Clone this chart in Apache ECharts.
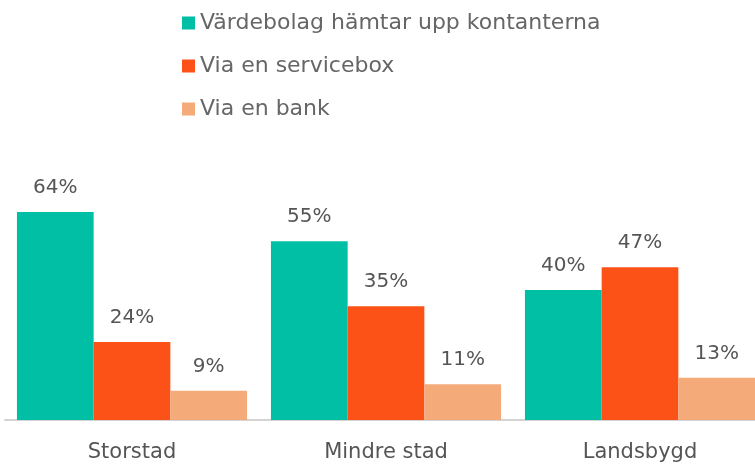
<!DOCTYPE html>
<html>
<head>
<meta charset="utf-8">
<script src="https://cdn.jsdelivr.net/npm/echarts@6/dist/echarts.min.js"></script>
<style>
  html, body { margin: 0; padding: 0; background: #fff; overflow: hidden; }
  /* sista gruppen fortsätter lite utanför bildkanten */
  #chart { width: 767px; height: 466px; }
</style>
</head>
<body>
<div id="chart"></div>
<script>
// kategorier och serier
const categories = ['Storstad', 'Mindre stad', 'Landsbygd'];
const seriesNames = ['Värdebolag hämtar upp kontanterna', 'Via en servicebox', 'Via en bank'];
const vardebolag = [64, 55, 40];
const servicebox = [24, 35, 47];
const bank = [9, 11, 13];
const colors = ['#00bfa5', '#fc5217', '#f5aa7a'];

const FONT = '"DejaVu Sans", sans-serif';

const chart = echarts.init(document.getElementById('chart'));

// gemensam stil för staplarna
function barSeries(name, data, color) {
  return {
    name: name,
    type: 'bar',
    data: data,
    barGap: '0%',
    barCategoryGap: '9.4%',
    itemStyle: { color: color },
    label: {
      show: true,
      position: 'top',
      distance: 14,
      formatter: '{c}%',
      color: '#555',
      fontSize: 20,
      fontFamily: FONT,
    },
  };
}

chart.setOption({
  backgroundColor: '#fff',
  animation: false,
  color: colors,
  legend: {
    orient: 'vertical',
    left: 177,
    top: 7,
    icon: 'rect',
    itemWidth: 13,
    itemHeight: 13,
    itemGap: 21,
    textStyle: { color: '#666', fontSize: 22, fontFamily: FONT },
    data: seriesNames,
  },
  grid: { left: 5, right: 0, top: 95, bottom: 46, containLabel: false },
  xAxis: {
    type: 'category',
    data: categories,
    axisLine: { lineStyle: { color: '#d3d3d3', width: 2 } },
    axisTick: { show: false },
    axisLabel: { color: '#555', fontSize: 21, fontFamily: FONT, margin: 22 },
  },
  yAxis: {
    type: 'value',
    min: 0,
    max: 100,
    show: false,
    splitLine: { show: false },
  },
  series: [
    barSeries(seriesNames[0], vardebolag, colors[0]),
    barSeries(seriesNames[1], servicebox, colors[1]),
    barSeries(seriesNames[2], bank, colors[2]),
  ],
});
</script>
</body>
</html>
